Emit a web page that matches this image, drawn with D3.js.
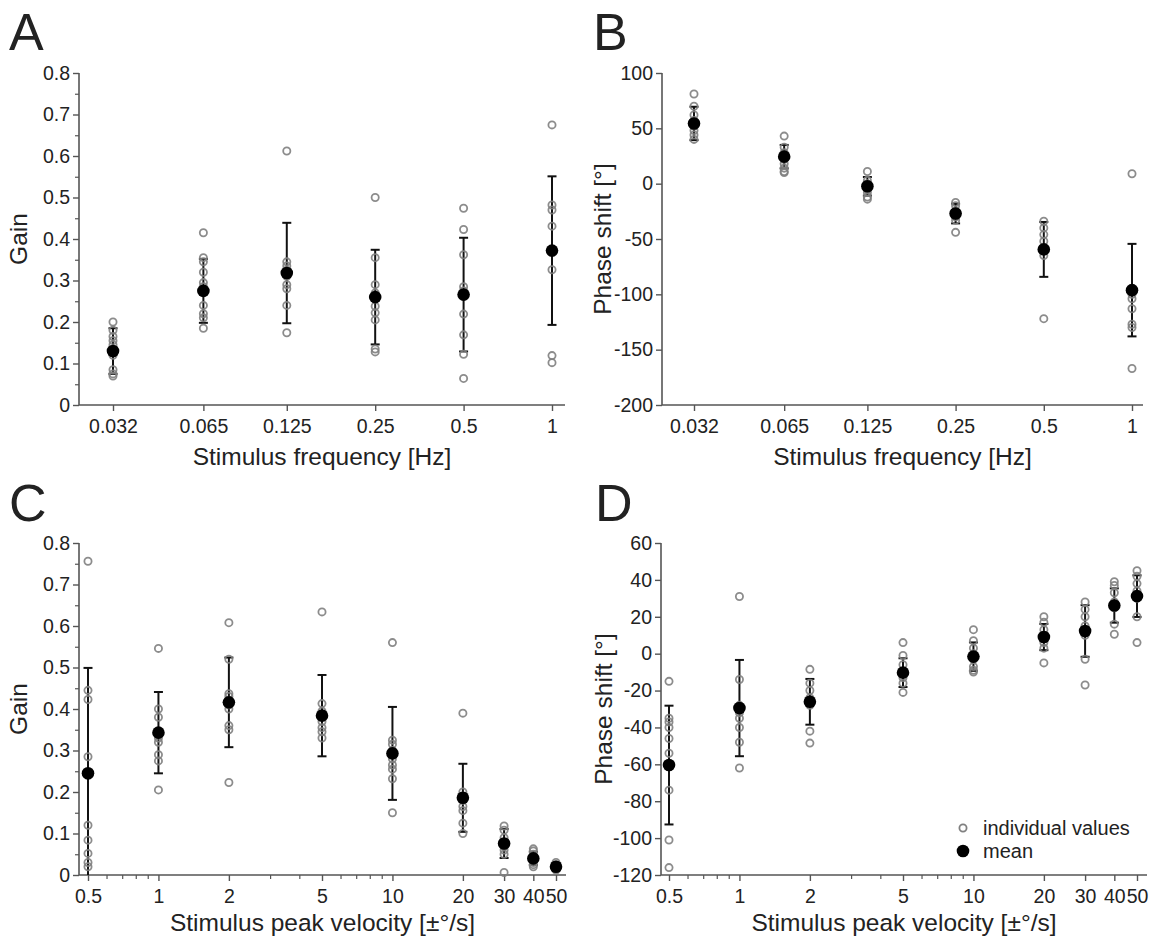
<!DOCTYPE html>
<html><head><meta charset="utf-8">
<script src="https://cdn.jsdelivr.net/npm/d3@7"></script>
<style>
body{margin:0;background:#fff}
svg{display:block}
text{font-family:"Liberation Sans",Arial,Helvetica,sans-serif;fill:#222}
</style>
</head><body><svg id="c" width="1150" height="945"></svg>
<script>
// ---------------- DATA ----------------
const freqCats = [0.032, 0.065, 0.125, 0.25, 0.5, 1];
const freqTickLabels = ["0.032", "0.065", "0.125", "0.25", "0.5", "1"];

const gainTicks = [0, 0.1, 0.2, 0.3, 0.4, 0.5, 0.6, 0.7, 0.8];
const gainTickLabels = ["0", "0.1", "0.2", "0.3", "0.4", "0.5", "0.6", "0.7", "0.8"];
const gainMinorTicks = [0.05, 0.15, 0.25, 0.35, 0.45, 0.55, 0.65, 0.75];

const phaseFreqTicks = [-200, -150, -100, -50, 0, 50, 100];
const phaseFreqTickLabels = ["-200", "-150", "-100", "-50", "0", "50", "100"];

const phaseVelTicks = [-120, -100, -80, -60, -40, -20, 0, 20, 40, 60];
const phaseVelTickLabels = ["-120", "-100", "-80", "-60", "-40", "-20", "0", "20", "40", "60"];

// Panel A: gain vs frequency
const gainFreqMean = [0.130, 0.275, 0.318, 0.260, 0.266, 0.372];
const gainFreqSD   = [0.055, 0.077, 0.121, 0.114, 0.137, 0.179];
const gainFreqIndiv = [
  [0.200, 0.180, 0.165, 0.155, 0.145, 0.120, 0.085, 0.075, 0.070],
  [0.415, 0.355, 0.345, 0.320, 0.295, 0.285, 0.240, 0.220, 0.210, 0.185],
  [0.612, 0.345, 0.335, 0.325, 0.310, 0.290, 0.280, 0.240, 0.174],
  [0.500, 0.355, 0.290, 0.270, 0.238, 0.222, 0.205, 0.135, 0.128],
  [0.474, 0.423, 0.362, 0.285, 0.275, 0.219, 0.169, 0.122, 0.064],
  [0.675, 0.482, 0.470, 0.431, 0.326, 0.119, 0.102]
];

// Panel B: phase vs frequency
const phaseFreqMean = [54.4, 24.4, -2.4, -27.0, -59.4, -96.2];
const phaseFreqSD   = [15.1, 10.6, 8.4, 8.9, 24.8, 41.8];
const phaseFreqIndiv = [
  [81, 70, 62, 57, 52, 48, 44, 40],
  [43, 33, 28, 25, 22, 18, 14, 11, 10],
  [11, 3, 0, -3, -5, -8, -12, -14],
  [-17, -20, -25, -28, -30, -33, -44],
  [-34, -40, -46, -52, -59, -65, -122],
  [9, -100, -104, -113, -127, -130, -167]
];

const velCats = [0.5, 1, 2, 5, 10, 20, 30, 40, 50];
const velTickLabels = ["0.5", "1", "2", "5", "10", "20", "30", "40", "50"];
const velMinorTicks = [0.6, 0.7, 0.8, 0.9, 3, 4, 6, 7, 8, 9];

// Panel C: gain vs velocity
const gainVelMean = [0.245, 0.343, 0.416, 0.384, 0.293, 0.186, 0.076, 0.040, 0.020];
const gainVelSD   = [0.254, 0.098, 0.108, 0.098, 0.112, 0.082, 0.035, 0.016, 0.008];
const gainVelIndiv = [
  [0.756, 0.445, 0.423, 0.285, 0.120, 0.084, 0.052, 0.030, 0.020],
  [0.546, 0.400, 0.380, 0.330, 0.320, 0.290, 0.275, 0.205],
  [0.608, 0.520, 0.437, 0.430, 0.410, 0.400, 0.360, 0.350, 0.223],
  [0.634, 0.413, 0.395, 0.370, 0.355, 0.345, 0.330],
  [0.560, 0.325, 0.315, 0.300, 0.280, 0.265, 0.255, 0.232, 0.150],
  [0.390, 0.200, 0.190, 0.180, 0.165, 0.155, 0.125, 0.100],
  [0.118, 0.108, 0.090, 0.070, 0.060, 0.050, 0.006],
  [0.063, 0.058, 0.050, 0.042, 0.035, 0.030, 0.025, 0.020],
  [0.030, 0.025, 0.020, 0.018, 0.015, 0.012]
];

// Panel D: phase vs velocity
const phaseVelMean = [-60.4, -29.5, -26.1, -10.3, -1.6, 9.0, 12.3, 26.1, 31.2];
const phaseVelSD   = [32.2, 26.1, 12.4, 7.8, 7.7, 7.1, 14.0, 9.3, 11.3];
const phaseVelIndiv = [
  [-15, -35, -37, -40, -46, -54, -74, -101, -116],
  [31, -14, -28, -32, -35, -40, -48, -62],
  [-8.5, -16, -20, -24, -28, -42, -48.5],
  [6, -1, -6, -10, -13, -16, -21],
  [13, 7, 3, 0, -3, -7, -9, -10],
  [20, 17, 13, 10, 6, 3, -5],
  [28, 24, 20, 15, 10, -3, -17],
  [39, 37, 33, 28, 25, 16, 10.5],
  [45, 42, 38, 34, 30, 20, 6]
];

const legendLabels = ["individual values", "mean"];

// ---------------- LAYOUT ----------------
const panels = [
  {letter:"A", lx:9, ly:50, cats:freqCats, catLabels:freqTickLabels, xMinor:[],
   xd:[0.032,1], xr:[113,552], axX:[79,565],
   yTicks:gainTicks, yLabels:gainTickLabels, yMinor:gainMinorTicks,
   yd:[0,0.8], yr:[405,73], mean:gainFreqMean, sd:gainFreqSD, ind:gainFreqIndiv,
   xTitle:"Stimulus frequency [Hz]", yTitle:"Gain", xTitleY:465, yTitleX:27},
  {letter:"B", lx:593, ly:50, cats:freqCats, catLabels:freqTickLabels, xMinor:[],
   xd:[0.032,1], xr:[694,1132], axX:[662,1143],
   yTicks:phaseFreqTicks, yLabels:phaseFreqTickLabels, yMinor:[],
   yd:[-200,100], yr:[405,73], mean:phaseFreqMean, sd:phaseFreqSD, ind:phaseFreqIndiv,
   xTitle:"Stimulus frequency [Hz]", yTitle:"Phase shift [°]", xTitleY:465, yTitleX:611},
  {letter:"C", lx:9, ly:521, cats:velCats, catLabels:velTickLabels, xMinor:velMinorTicks,
   xd:[0.5,50], xr:[88,556], axX:[79,566],
   yTicks:gainTicks, yLabels:gainTickLabels, yMinor:gainMinorTicks,
   yd:[0,0.8], yr:[875,543], mean:gainVelMean, sd:gainVelSD, ind:gainVelIndiv,
   xTitle:"Stimulus peak velocity [±°/s]", yTitle:"Gain", xTitleY:931, yTitleX:27},
  {letter:"D", lx:595, ly:521, cats:velCats, catLabels:velTickLabels, xMinor:velMinorTicks,
   xd:[0.5,50], xr:[669,1137], axX:[661,1147],
   yTicks:phaseVelTicks, yLabels:phaseVelTickLabels, yMinor:[],
   yd:[-120,60], yr:[875,543], mean:phaseVelMean, sd:phaseVelSD, ind:phaseVelIndiv,
   xTitle:"Stimulus peak velocity [±°/s]", yTitle:"Phase shift [°]", xTitleY:931, yTitleX:612,
   legend:true}
];

const svg = d3.select("#c");
const AXIS_COL = "#555";
const IND_COL = "#808080";
const TICK_FS = 19.5, TITLE_FS = 24.5;

panels.forEach(p => {
  const g = svg.append("g");
  const x = d3.scaleLog().domain(p.xd).range(p.xr);
  const y = d3.scaleLinear().domain(p.yd).range(p.yr);
  const y0 = p.yr[0], yTop = p.yr[1], ax0 = p.axX[0];

  // panel letter
  g.append("text").attr("x", p.lx).attr("y", p.ly).attr("font-size", 52).text(p.letter);

  // x axis
  const xa = g.append("g").attr("transform", `translate(0,${y0})`)
    .call(d3.axisBottom(x).tickValues(p.cats).tickFormat((d,i)=>p.catLabels[i]).tickSize(6).tickPadding(8));
  xa.select(".domain").remove();
  xa.selectAll(".tick line").attr("stroke", AXIS_COL).attr("stroke-width", 1.4);
  xa.selectAll(".tick text").attr("font-size", TICK_FS).attr("font-family", "Liberation Sans, Arial, sans-serif").attr("fill", "#222");
  if (p.xMinor.length) {
    const xm = g.append("g").attr("transform", `translate(0,${y0})`)
      .call(d3.axisBottom(x).tickValues(p.xMinor).tickFormat("").tickSize(4));
    xm.select(".domain").remove();
    xm.selectAll(".tick line").attr("stroke", AXIS_COL).attr("stroke-width", 1.2);
  }
  g.append("line").attr("x1", ax0).attr("x2", p.axX[1]).attr("y1", y0).attr("y2", y0)
    .attr("stroke", AXIS_COL).attr("stroke-width", 1.6);

  // y axis
  const ya = g.append("g").attr("transform", `translate(${ax0},0)`)
    .call(d3.axisLeft(y).tickValues(p.yTicks).tickFormat((d,i)=>p.yLabels[i]).tickSize(6).tickPadding(3));
  ya.select(".domain").remove();
  ya.selectAll(".tick line").attr("stroke", AXIS_COL).attr("stroke-width", 1.4);
  ya.selectAll(".tick text").attr("font-size", TICK_FS).attr("font-family", "Liberation Sans, Arial, sans-serif").attr("fill", "#222");
  if (p.yMinor.length) {
    const ym = g.append("g").attr("transform", `translate(${ax0},0)`)
      .call(d3.axisLeft(y).tickValues(p.yMinor).tickFormat("").tickSize(4));
    ym.select(".domain").remove();
    ym.selectAll(".tick line").attr("stroke", AXIS_COL).attr("stroke-width", 1.2);
  }
  g.append("line").attr("x1", ax0).attr("x2", ax0).attr("y1", yTop).attr("y2", y0)
    .attr("stroke", AXIS_COL).attr("stroke-width", 1.6);

  // titles
  g.append("text").attr("x", (p.axX[0]+p.axX[1])/2).attr("y", p.xTitleY)
    .attr("text-anchor", "middle").attr("font-size", TITLE_FS).text(p.xTitle);
  g.append("text").attr("transform", `translate(${p.yTitleX},${(y0+yTop)/2}) rotate(-90)`)
    .attr("text-anchor", "middle").attr("font-size", TITLE_FS).text(p.yTitle);

  // error bars
  const eb = g.append("g");
  p.cats.forEach((c, i) => {
    const cx = x(c);
    const lo = Math.max(p.mean[i] - p.sd[i], p.yd[0]);
    const hi = Math.min(p.mean[i] + p.sd[i], p.yd[1]);
    eb.append("line").attr("x1", cx).attr("x2", cx).attr("y1", y(lo)).attr("y2", y(hi))
      .attr("stroke", "#111").attr("stroke-width", 2);
    [[lo, p.mean[i] - p.sd[i]], [hi, p.mean[i] + p.sd[i]]].forEach(([v, raw]) => {
      if (v === raw) eb.append("line").attr("x1", cx-4.5).attr("x2", cx+4.5)
        .attr("y1", y(v)).attr("y2", y(v)).attr("stroke", "#111").attr("stroke-width", 2);
    });
  });

  // individual values
  const ig = g.append("g");
  p.cats.forEach((c, i) => {
    ig.selectAll(null).data(p.ind[i]).enter().append("circle")
      .attr("cx", x(c)).attr("cy", d => y(d)).attr("r", 3.6)
      .attr("fill", "none").attr("stroke", IND_COL).attr("stroke-opacity", 0.9).attr("stroke-width", 1.8);
  });

  // means
  g.append("g").selectAll("circle").data(p.mean).enter().append("circle")
    .attr("cx", (d,i) => x(p.cats[i])).attr("cy", d => y(d)).attr("r", 6.3).attr("fill", "#000");

  if (p.legend) {
    const lg = g.append("g");
    lg.append("circle").attr("cx", 963).attr("cy", 828).attr("r", 3.6)
      .attr("fill", "none").attr("stroke", IND_COL).attr("stroke-width", 1.8);
    lg.append("circle").attr("cx", 963).attr("cy", 851).attr("r", 6.3).attr("fill", "#000");
    lg.append("text").attr("x", 983).attr("y", 828).attr("dy", "0.35em").attr("font-size", 20).text(legendLabels[0]);
    lg.append("text").attr("x", 983).attr("y", 851).attr("dy", "0.35em").attr("font-size", 20).text(legendLabels[1]);
  }
});
</script>
</body></html>
